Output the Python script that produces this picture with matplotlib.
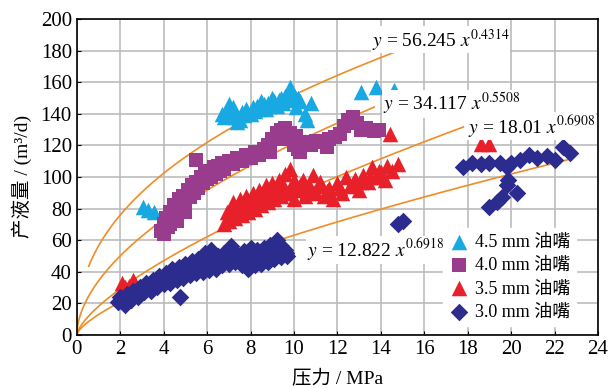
import numpy as np
import matplotlib.pyplot as plt

plt.rcParams['font.family'] = ['Liberation Serif', 'Noto Sans CJK SC']
plt.rcParams['mathtext.fontset'] = 'stix'

# 4.5 mm choke (light blue triangles)
x45 = [3.05, 3.3, 3.55, 6.7, 6.9, 7.0, 7.1, 7.3, 7.4, 7.5, 7.6, 7.8, 8.0, 8.1, 8.3, 8.4,
       8.6, 8.8, 8.9, 9.1, 9.3, 9.4, 9.5, 9.6, 9.7, 9.8, 9.9, 10.0, 10.1, 10.3, 10.5,
       10.6, 10.8, 13.1, 13.8, 14.6,
       6.8, 7.2, 7.7, 8.2, 8.7, 9.2, 9.0, 8.5, 10.2]
y45 = [81, 79, 78, 140, 143, 146, 141, 138, 135, 136, 141, 143, 140, 144, 145, 143,
       146, 147, 145, 148, 149, 150, 147, 151, 152, 157, 149, 152, 144, 148, 140,
       136, 147, 154, 157, 155,
       138, 144, 139, 142, 143, 145, 150, 148, 150]

# 4.0 mm choke (purple squares)
x40 = [3.9, 4.0, 4.1, 4.2, 4.3, 4.4, 4.5, 4.6, 4.7, 4.8, 4.9, 5.0, 5.1, 5.2, 5.3, 5.4,
       5.5, 5.6, 5.7, 5.8, 5.9, 6.0, 6.1, 6.2, 6.3, 6.4, 6.5, 6.6, 6.7, 6.8, 7.0, 7.2,
       7.4, 7.6, 7.8, 8.0, 8.2, 8.4, 8.6, 8.8, 9.0, 9.2, 9.4, 9.6, 9.8, 9.9, 10.0, 10.2,
       10.4, 10.6, 10.8, 11.0, 11.3, 11.6, 11.9, 12.1, 12.3, 12.5, 12.7, 12.9, 13.1,
       13.3, 13.5, 13.7, 13.9, 5.5,
       4.0, 4.3, 4.6, 5.0, 8.9, 9.3, 10.1, 10.3, 11.5]
y40 = [66, 70, 74, 68, 78, 72, 82, 76, 86, 80, 88, 84, 92, 87, 95, 90,
       97, 93, 100, 96, 102, 99, 104, 100, 106, 102, 107, 104, 109, 105, 110, 108,
       112, 110, 114, 112, 116, 114, 118, 120, 124, 128, 130, 131, 128, 124, 120, 118,
       121, 122, 120, 123, 122, 124, 125, 127, 132, 136, 138, 134, 130,
       131, 130, 129, 130, 111,
       64, 70, 72, 78, 116, 124, 126, 116, 119]

# 3.5 mm choke (red triangles)
x35 = [2.0, 2.1, 2.2, 2.2, 2.3, 2.4, 2.6, 2.7,
       6.9, 7.2, 7.5, 7.8, 8.1, 8.4, 8.7, 9.0, 9.3, 9.6, 9.8, 10.0,
       6.8, 7.0, 7.3, 7.6, 7.9, 8.2, 8.5, 8.8, 9.1, 9.4, 9.7, 10.0,
       7.1, 7.4, 7.7, 8.0, 8.3, 8.6, 8.9, 9.2, 9.5, 9.9,
       10.2, 10.4, 10.5, 10.7, 10.9, 11.0, 11.2, 11.4, 11.6, 11.8, 12.0, 12.2, 12.4,
       12.6, 12.8, 13.0, 13.2, 13.4, 13.6, 13.8, 14.0, 14.2, 14.3, 14.8,
       10.3, 10.6, 11.1, 11.5, 12.1, 12.7, 13.1, 13.5, 13.9, 14.5,
       14.4, 18.6, 19.0]
y35 = [25, 33, 22, 30, 28, 31, 35, 32,
       78, 84, 86, 88, 90, 92, 95, 96, 98, 102, 105, 98,
       70, 72, 74, 76, 78, 80, 82, 84, 86, 88, 90, 86,
       77, 80, 82, 84, 86, 88, 90, 92, 95, 93,
       92, 98, 88, 95, 101, 90, 97, 88, 93, 86, 96, 90, 100,
       94, 99, 92, 101, 97, 106, 100, 103, 98, 107, 108,
       95, 91, 94, 91, 93, 96, 97, 100, 104, 104,
       127, 121, 121]

# 3.0 mm choke (dark blue diamonds)
x30 = [1.9, 2.2, 2.5, 2.8, 3.1, 3.4, 3.7, 4.0, 4.3, 4.6, 4.9, 5.2, 5.5, 5.8, 6.1, 6.4,
       6.7, 7.0, 7.3, 7.6, 7.9, 8.2, 8.5, 8.8, 9.1, 9.4, 9.7,
       2.0, 2.3, 2.6, 2.9, 3.2, 3.5, 3.8, 4.1, 4.4, 4.7, 5.0, 5.3, 5.6, 5.9, 6.2, 6.5,
       6.8, 7.1, 7.4, 7.7, 8.0, 8.3, 8.6, 8.9, 9.2, 9.4, 9.6,
       2.15, 2.45, 2.75, 3.05, 3.35, 3.65, 3.95, 4.25, 4.55, 4.85, 5.15, 5.45, 5.75,
       6.05, 6.35, 6.65, 6.95, 7.25, 7.55, 7.85, 8.15, 8.45, 8.75, 9.05, 9.35, 9.65,
       4.75, 14.8, 15.0,
       17.8, 18.2, 18.6, 19.0, 19.5, 19.8, 20.0, 20.4, 20.8, 21.2, 21.65, 22.0, 22.4, 22.7,
       19.85, 19.8, 20.25, 19.6, 19.35, 19.0]
y30 = [21, 19, 22, 24, 27, 28, 30, 32, 33, 35, 36, 38, 39, 40, 41, 42,
       44, 45, 46, 44, 42, 44, 45, 46, 48, 49, 50,
       24, 26, 28, 30, 33, 35, 37, 39, 42, 43, 45, 47, 48, 52, 54, 50,
       52, 56, 51, 53, 55, 54, 55, 57, 60, 56, 54,
       23, 25, 27, 30, 31, 33, 35, 37, 39, 40, 42, 43, 45,
       47, 46, 48, 50, 49, 48, 49, 50, 50, 51, 53, 53, 52,
       24, 70, 72,
       106, 109, 108, 109, 109, 106, 109, 111, 114, 112, 113, 111, 119, 115,
       98, 95, 90, 87, 84, 81]

# power-law fits y = a * x^b
fit_a = [56.245, 34.117, 18.01, 12.822]
fit_b = [0.4314, 0.5508, 0.6908, 0.6918]
fit_x0 = [0.55, 0.0, 0.0, 0.0]
fit_x1 = [14.6, 13.7, 17.8, 22.6]
fit_labels = [r'$y$ = 56.245 $x^{0.4314}$', r'$y$ = 34.117 $x^{0.5508}$',
              r'$y$ = 18.01 $x^{0.6908}$', r'$y$ = 12.822 $x^{0.6918}$']
label_pos = [(13.6, 187), (14.1, 146), (18.0, 132), (10.6, 54)]

fig = plt.figure(figsize=(6.09, 3.88), dpi=100)
ax = fig.add_axes([0.126, 0.137, 0.856, 0.814])

for a, b, x0, x1 in zip(fit_a, fit_b, fit_x0, fit_x1):
    xs = np.linspace(x0, x1, 300)
    ax.plot(xs, a * xs ** b, color='#f08c28', lw=1.2, zorder=2)

ax.scatter(x45, y45, marker='^', s=125, color='#18a8e2', lw=0, zorder=3, label='4.5 mm 油嘴')
ax.scatter(x40, y40, marker='s', s=95, color='#9a3c8e', lw=0, zorder=3, label='4.0 mm 油嘴')
ax.scatter(x35, y35, marker='^', s=125, color='#e8202a', lw=0, zorder=3, label='3.5 mm 油嘴')
ax.scatter(x30, y30, marker='D', s=80, color='#2b2c8e', lw=0, zorder=3, label='3.0 mm 油嘴')

for txt, (tx, ty) in zip(fit_labels, label_pos):
    ax.text(tx, ty, txt, fontsize=14, va='center', ha='left', zorder=4,
            bbox=dict(facecolor='white', edgecolor='none', pad=0.5))

ax.set_xlim(0, 24)
ax.set_ylim(0, 200)
ax.set_xticks(np.arange(0, 25, 2))
ax.set_yticks(np.arange(0, 201, 20))
ax.tick_params(axis='both', direction='in', labelsize=15, length=3)
ax.grid(True, color='#bcbcbc', lw=1.2)
ax.set_axisbelow(True)
for sp in ax.spines.values():
    sp.set_linewidth(1.2)

ax.set_xlabel('压力 / MPa', fontsize=14, labelpad=8)
ax.set_ylabel('产液量 / (m³/d)', fontsize=14, labelpad=6)

leg = ax.legend(loc='lower right', bbox_to_anchor=(0.975, 0.0), fontsize=13,
                frameon=True, framealpha=1, edgecolor='white', handletextpad=0.3,
                labelspacing=0.35, borderpad=0.3, handlelength=1.2)
leg.set_zorder(5)

plt.savefig('out.png', dpi=100)
